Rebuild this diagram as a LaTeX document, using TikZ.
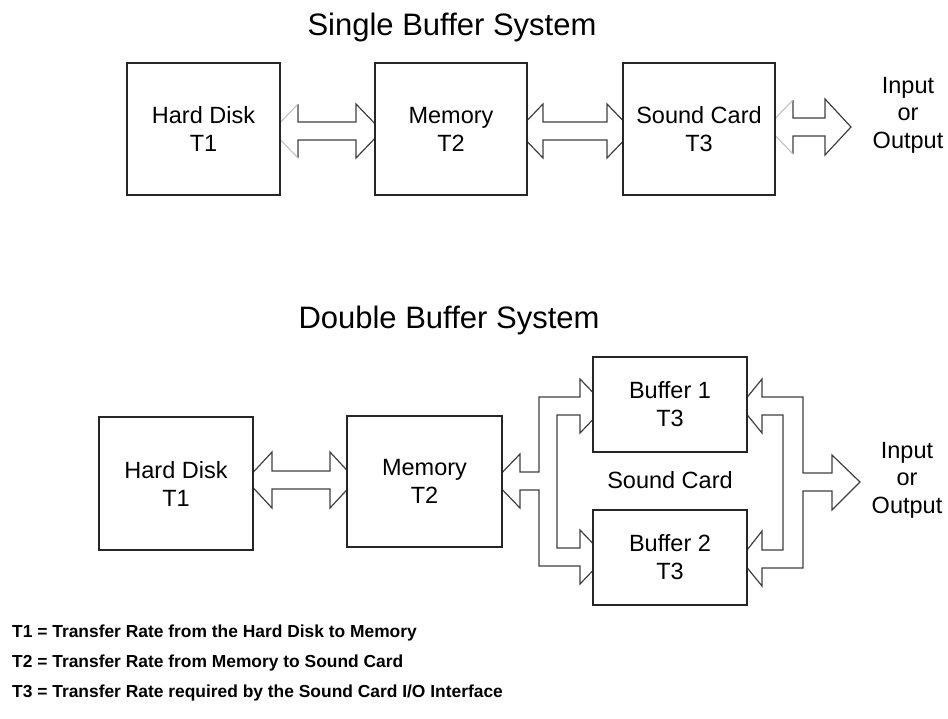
\documentclass[tikz,border=0pt]{standalone}
\usepackage{fontspec}
\setmainfont{Liberation Sans}
\begin{document}
\begin{tikzpicture}[x=1pt,y=-1pt,
  box/.style={draw=black!85, line width=1.3pt, fill=white, inner sep=0pt, align=center, font=\fontsize{23.5}{28}\selectfont},
  aline/.style={draw=black!75, line width=1.2pt, line join=miter},
  faint/.style={draw=black!25, line width=1pt},
  lbl/.style={align=center, font=\fontsize{23.5}{27.5}\selectfont},
  ttl/.style={font=\fontsize{31}{36}\selectfont, anchor=base},
  legend/.style={font=\bfseries\fontsize{17.4}{20}\selectfont, anchor=base west, inner sep=0pt}]
\useasboundingbox (0,0) rectangle (948,718);

% ---------- Single buffer: block arrows ----------
% Hard Disk <-> Memory
\fill[white] (272,131) -- (298,104) -- (298,122) -- (356,122) -- (356,104) -- (382,131) -- (356,158) -- (356,140) -- (298,140) -- (298,158) -- cycle;
\draw[aline] (298,104) -- (298,122) -- (356,122) -- (356,104) -- (382,131) -- (356,158) -- (356,140) -- (298,140) -- (298,158);
\draw[faint] (298,104) -- (272,131) -- (298,158);
% Memory <-> Sound Card
\draw[aline, fill=white] (517,131) -- (543,104) -- (543,122) -- (607,122) -- (607,104) -- (633,131) -- (607,158) -- (607,140) -- (543,140) -- (543,158) -- cycle;
% Sound Card <-> Input/Output
\fill[white] (767,127) -- (793,100) -- (793,118) -- (825,118) -- (825,99) -- (851,127) -- (825,155) -- (825,136) -- (793,136) -- (793,154) -- cycle;
\draw[aline] (793,100) -- (793,118) -- (825,118) -- (825,99) -- (851,127) -- (825,155) -- (825,136) -- (793,136) -- (793,154);
\draw[faint] (793,100) -- (767,127) -- (793,154);

% ---------- Double buffer: block arrows ----------
% Hard Disk <-> Memory
\draw[aline, fill=white] (246,480) -- (272,452) -- (272,471) -- (330,471) -- (330,452) -- (356,480) -- (330,508) -- (330,489) -- (272,489) -- (272,508) -- cycle;
% Memory <-> Buffer 1 / Buffer 2
\draw[aline, fill=white] (494,481) -- (520,454) -- (520,472) -- (539,472) -- (539,397) -- (580,397) -- (580,379) -- (606,406) -- (580,433) -- (580,415) -- (557,415) -- (557,548) -- (580,548) -- (580,530) -- (606,557) -- (580,584) -- (580,566) -- (539,566) -- (539,490) -- (520,490) -- (520,508) -- cycle;
% Buffer 1 / Buffer 2 <-> Input/Output
\draw[aline, fill=white] (740,406) -- (762,379) -- (762,397) -- (803,397) -- (803,473) -- (832,473) -- (832,455) -- (860,482) -- (832,510) -- (832,491) -- (803,491) -- (803,568) -- (762,568) -- (762,586) -- (740,559) -- (762,531) -- (762,550) -- (783,550) -- (783,415) -- (762,415) -- (762,433) -- cycle;

% ---------- Titles ----------
\node[ttl] (title1) at (452,35) {Single Buffer System};
\node[ttl] (title2) at (449,328) {Double Buffer System};

% ---------- Single buffer boxes ----------
\node[box, minimum width=153pt, minimum height=132pt] (hd1) at (203.5,129) {Hard Disk\\T1};
\node[box, minimum width=152pt, minimum height=132pt] (mem1) at (451,129) {Memory\\T2};
\node[box, minimum width=152pt, minimum height=132pt] (sc1) at (699,129) {Sound Card\\T3};
\node[lbl] (io1) at (908,115) {Input\\or\\Output};

% ---------- Double buffer boxes ----------
\node[box, minimum width=154pt, minimum height=133pt] (hd2) at (176,483.5) {Hard Disk\\T1};
\node[box, minimum width=155pt, minimum height=131pt] (mem2) at (424.5,481.5) {Memory\\T2};
\node[box, minimum width=154pt, minimum height=95pt] (buf1) at (670,404.5) {Buffer 1\\T3};
\node[box, minimum width=154pt, minimum height=95pt] (buf2) at (670,557.5) {Buffer 2\\T3};
\node[lbl] (sclabel) at (670,480) {Sound Card};
\node[lbl] (io2) at (907,480) {Input\\or\\Output};

% ---------- Legend ----------
\node[legend] (leg1) at (12,637) {T1 = Transfer Rate from the Hard Disk to Memory};
\node[legend] (leg2) at (12,667) {T2 = Transfer Rate from Memory to Sound Card};
\node[legend] (leg3) at (12,697) {T3 = Transfer Rate required by the Sound Card I/O Interface};
\end{tikzpicture}
\end{document}
